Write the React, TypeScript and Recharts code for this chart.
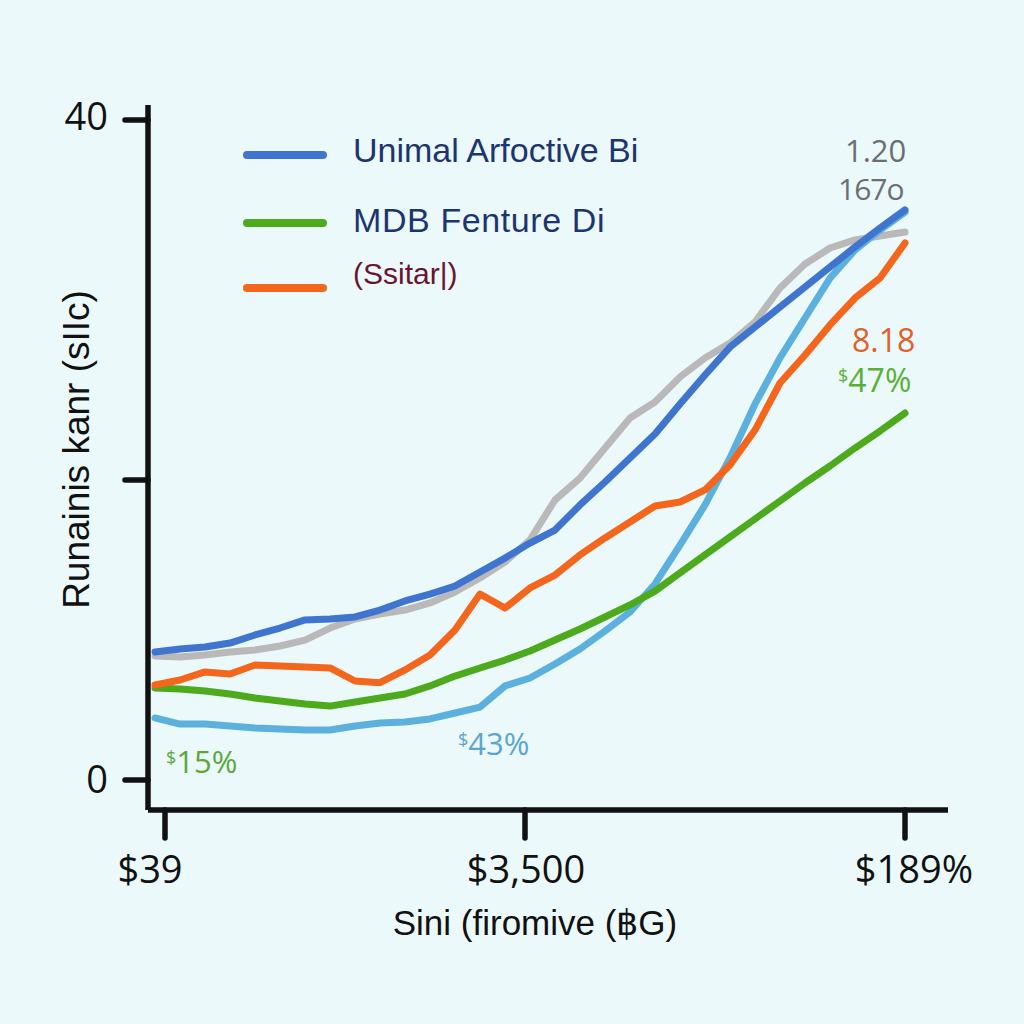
import React from 'react';
import { LineChart, Line, XAxis, YAxis, Legend, Label } from 'recharts';

// x positions (sample index along the horizontal axis)
const positions = Array.from({ length: 31 }, (_, i) => i);

const blueSeries = [7.76, 7.94, 8.06, 8.3, 8.79, 9.21, 9.7, 9.76, 9.88, 10.3, 10.85, 11.27, 11.76, 12.61, 13.45, 14.36, 15.15, 16.67, 18.06, 19.52, 20.97, 22.79, 24.55, 26.24, 27.45, 28.67, 29.88, 31.09, 32.3, 33.45, 34.55];
const graySeries = [7.52, 7.45, 7.58, 7.76, 7.88, 8.12, 8.48, 9.21, 9.76, 10.06, 10.3, 10.73, 11.39, 12.24, 13.21, 14.55, 16.97, 18.3, 20.12, 21.94, 22.91, 24.42, 25.58, 26.48, 27.76, 29.82, 31.27, 32.24, 32.73, 32.97, 33.21];
const orangeSeries = [5.76, 6.06, 6.55, 6.42, 6.97, 6.91, 6.85, 6.79, 6.0, 5.9, 6.67, 7.58, 9.09, 11.27, 10.42, 11.64, 12.42, 13.64, 14.67, 15.64, 16.61, 16.85, 17.58, 19.09, 21.21, 24.06, 25.76, 27.58, 29.21, 30.42, 32.55];
const greenSeries = [5.58, 5.52, 5.39, 5.21, 4.97, 4.79, 4.61, 4.48, 4.73, 4.97, 5.21, 5.7, 6.3, 6.79, 7.27, 7.82, 8.48, 9.15, 9.88, 10.61, 11.45, 12.55, 13.64, 14.73, 15.82, 16.91, 18.0, 19.03, 20.12, 21.15, 22.24];
const lightBlueSeries = [3.76, 3.39, 3.39, 3.27, 3.15, 3.09, 3.03, 3.03, 3.27, 3.45, 3.52, 3.7, 4.06, 4.42, 5.7, 6.18, 7.03, 7.94, 9.03, 10.18, 11.88, 14.24, 16.67, 19.52, 22.79, 25.58, 28.0, 30.42, 32.12, 33.33, 34.42];

const xTickValues = [0.4, 14.8, 30];
const xTickLabels = ['$39', '$3,500', '$189%'];
const yTickValues = [0, 18.18, 40];
const yTickLabels = ['0', '', '40'];

const legendNames = ['Unimal Arfoctive Bi', 'MDB Fenture Di', '(Ssitar|)'];
const legendColors = ['#3f74cf', '#4caa1c', '#f4661b'];
const legendTextColors = ['#1c3570', '#1c3570', '#6a1530'];

const xTitle = 'Sini (firomive (฿G)';
const yTitle = 'Runainis kanr (sIIc)';

const data = positions.map((x, i) => ({
  x,
  blue: blueSeries[i],
  gray: graySeries[i],
  orange: orangeSeries[i],
  green: greenSeries[i],
  lightBlue: lightBlueSeries[i],
}));

const xTickShift = [-15, 1, 9];

const XTick = (props: any) => {
  const { x, y, index } = props;
  return (
    <text x={x + (xTickShift[index] || 0)} y={y} dy={45} textAnchor="middle" fill="#111" fontSize={38} fontFamily="Open Sans, Noto Sans, sans-serif">
      {xTickLabels[index]}
    </text>
  );
};

const YTick = (props: any) => {
  const { x, y, index } = props;
  const label = yTickLabels[index];
  if (!label) return null;
  return (
    <text x={x} y={y} dy={index === 0 ? 13 : 10} textAnchor="end" fill="#111" fontSize={38} fontFamily="Open Sans, Noto Sans, sans-serif">
      {label}
    </text>
  );
};

const XTitle = (props: any) => {
  const vb = props.viewBox || { x: 148, y: 810, width: 800 };
  return (
    <text x={vb.x + vb.width / 2 - 13} y={vb.y + 125} textAnchor="middle" fill="#111" fontSize={35} fontFamily="Liberation Sans, Arial, sans-serif">
      {xTitle}
    </text>
  );
};

const YTitle = (props: any) => {
  const vb = props.viewBox || { x: 88, y: 105, width: 60, height: 705 };
  const cx = vb.x + vb.width - 72;
  const cy = vb.y + vb.height / 2 - 8;
  return (
    <text x={cx} y={cy} transform={`rotate(-90 ${cx} ${cy})`} textAnchor="middle" dominantBaseline="central" fill="#111" fontSize={37} fontFamily="Liberation Sans, Arial, sans-serif">
      {yTitle}
    </text>
  );
};

const legendRowTops = [155, 223, 288];
const legendTextY = [153, 223, 276];
const legendSizes = [34, 34, 30];

const LegendContent = () => (
  <div style={{ position: 'relative', width: 700, height: 320 }}>
    {legendNames.map((name, i) => (
      <React.Fragment key={name}>
        <div style={{ position: 'absolute', left: 243, top: legendRowTops[i] - 4, width: 84, height: 8, borderRadius: 4, background: legendColors[i] }} />
        <div style={{ position: 'absolute', left: 353, top: legendTextY[i] - legendSizes[i] * 0.58, fontSize: legendSizes[i], lineHeight: `${legendSizes[i]}px`, color: legendTextColors[i], fontFamily: 'Liberation Sans, Arial, sans-serif', whiteSpace: 'nowrap', letterSpacing: i === 1 ? 0.6 : 0 }}>
          {name}
        </div>
      </React.Fragment>
    ))}
  </div>
);

const annFont = 'Open Sans, Noto Sans, sans-serif';

export default function App() {
  return (
    <div style={{ position: 'fixed', left: 0, top: 0, width: 1024, height: 1024, background: '#ecf9fb', overflow: 'hidden' }}>
      <LineChart width={1024} height={1024} data={data} margin={{ top: 105, right: 76, bottom: 154, left: 88 }}>
        <XAxis
          type="number"
          dataKey="x"
          domain={[-0.28, 31.72]}
          ticks={xTickValues}
          interval={0}
          height={60}
          tickSize={28}
          tickMargin={0}
          axisLine={{ stroke: '#111', strokeWidth: 5.5 }}
          tickLine={{ stroke: '#111', strokeWidth: 5.5, strokeLinecap: 'round' }}
          tick={<XTick />}
          allowDataOverflow
        >
          <Label content={<XTitle />} />
        </XAxis>
        <YAxis
          type="number"
          domain={[-1.818, 40.909]}
          ticks={yTickValues}
          interval={0}
          width={60}
          tickSize={23}
          tickMargin={17}
          axisLine={{ stroke: '#111', strokeWidth: 5.5 }}
          tickLine={{ stroke: '#111', strokeWidth: 5.5, strokeLinecap: 'round' }}
          tick={<YTick />}
          allowDataOverflow
        >
          <Label content={<YTitle />} />
        </YAxis>
        <Legend layout="vertical" align="center" verticalAlign="middle" wrapperStyle={{ left: 0, top: 0, width: 700, height: 320 }} content={<LegendContent />} />
        <Line dataKey="gray" stroke="#b9b9b9" strokeWidth={7} dot={false} isAnimationActive={false} strokeLinejoin="round" strokeLinecap="round" legendType="none" />
        <Line dataKey="lightBlue" stroke="#5bb0de" strokeWidth={7} dot={false} isAnimationActive={false} strokeLinejoin="round" strokeLinecap="round" legendType="none" />
        <Line dataKey="green" name={legendNames[1]} stroke="#4caa1c" strokeWidth={7} dot={false} isAnimationActive={false} strokeLinejoin="round" strokeLinecap="round" />
        <Line dataKey="orange" name={legendNames[2]} stroke="#f4661b" strokeWidth={7} dot={false} isAnimationActive={false} strokeLinejoin="round" strokeLinecap="round" />
        <Line dataKey="blue" name={legendNames[0]} stroke="#3f74cf" strokeWidth={7} dot={false} isAnimationActive={false} strokeLinejoin="round" strokeLinecap="round" />
      </LineChart>
      <svg width={1024} height={1024} style={{ position: 'absolute', left: 0, top: 0, pointerEvents: 'none' }}>
        <text x={845} y={162} fontSize={31} fill="#6b6f73" fontFamily={annFont}>1.20</text>
        <text x={838} y={200} fontSize={30} fill="#6b6f73" fontFamily={annFont} letterSpacing={-1}>167o</text>
        <text x={852} y={352} fontSize={32} fill="#e0602a" fontFamily={annFont}>8.18</text>
        <text x={838} y={392} fontSize={32} fill="#59b035" fontFamily={annFont}>
          <tspan fontSize={18} dy={-10}>$</tspan>
          <tspan dy={10}>47%</tspan>
        </text>
        <text x={166} y={773} fontSize={31} fill="#5aa83a" fontFamily={annFont}>
          <tspan fontSize={18} dy={-9}>$</tspan>
          <tspan dy={9}>15%</tspan>
        </text>
        <text x={458} y={755} fontSize={31} fill="#5aa5d0" fontFamily={annFont}>
          <tspan fontSize={18} dy={-9}>$</tspan>
          <tspan dy={9}>43%</tspan>
        </text>
      </svg>
    </div>
  );
}
